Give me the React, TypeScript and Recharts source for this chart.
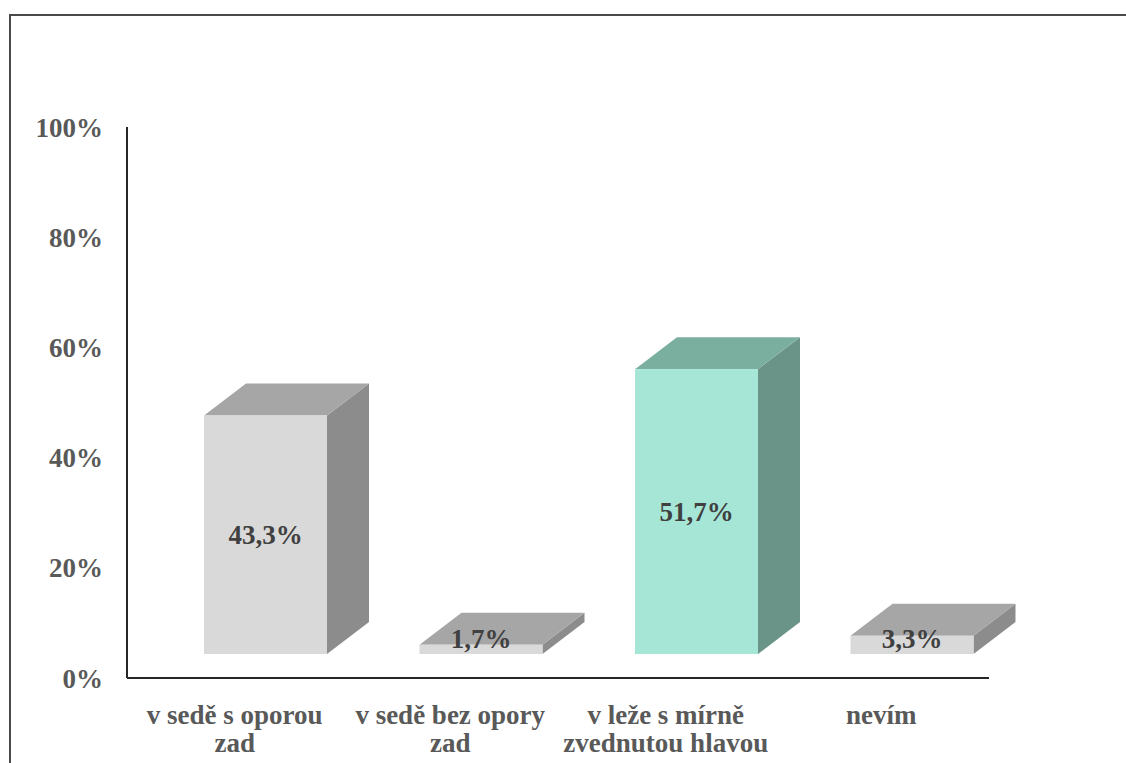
import { BarChart, Bar, XAxis, YAxis } from 'recharts';

// answers (x axis), one line break each where the label wraps
const categories = [
  'v sedě s oporou\nzad',
  'v sedě bez opory\nzad',
  'v leže s mírně\nzvednutou hlavou',
  'nevím',
];
// share of respondents, %
const shares = [43.3, 1.7, 51.7, 3.3];
const yTicks = [0, 20, 40, 60, 80, 100];

const frontColors = ['#d9d9d9', '#d9d9d9', '#a6e6d7', '#d9d9d9'];
const topColors = ['#a6a6a6', '#a6a6a6', '#7aafa0', '#a6a6a6'];
const sideColors = ['#8c8c8c', '#8c8c8c', '#699487', '#8c8c8c'];

const data = categories.map((name, i) => ({ name, value: shares[i] }));

const FONT = '"Liberation Serif", "Times New Roman", serif';
const DEPTH_X = 42;
const DEPTH_Y = 32;
const SHIFT_X = 31;
const SHIFT_Y = -24;

const fmt = (v: number) => `${v.toFixed(1).replace('.', ',')}%`;

function Box3D(props: any) {
  const { x, y, width, height, index, value } = props;
  const fx = x + SHIFT_X;
  const fy = y + SHIFT_Y;
  const right = fx + width;
  const bottom = fy + height;
  const top = `${fx},${fy} ${fx + DEPTH_X},${fy - DEPTH_Y} ${right + DEPTH_X},${fy - DEPTH_Y} ${right},${fy}`;
  const side = `${right},${fy} ${right + DEPTH_X},${fy - DEPTH_Y} ${right + DEPTH_X},${bottom - DEPTH_Y} ${right},${bottom}`;
  const ly = Math.min(fy + height / 2, bottom - 15);
  return (
    <g>
      <polygon points={side} fill={sideColors[index]} />
      <polygon points={top} fill={topColors[index]} />
      <rect x={fx} y={fy} width={width} height={height} fill={frontColors[index]} />
      <text
        x={fx + width / 2}
        y={ly}
        dy="0.35em"
        textAnchor="middle"
        fontFamily={FONT}
        fontWeight="bold"
        fontSize={27}
        fill="#404040"
      >
        {fmt(value)}
      </text>
    </g>
  );
}

function CategoryTick(props: any) {
  const { x, y, payload } = props;
  const lines = String(payload.value).split('\n');
  return (
    <text
      x={x}
      y={y + 44}
      textAnchor="middle"
      fontFamily={FONT}
      fontWeight="bold"
      fontSize={27}
      fill="#595959"
    >
      {lines.map((l, i) => (
        <tspan key={i} x={x} dy={i === 0 ? 0 : 28}>
          {l}
        </tspan>
      ))}
    </text>
  );
}

export default function App() {
  return (
    <div style={{ position: 'absolute', left: 0, top: 0, width: 1126, height: 763, background: '#fff' }}>
      <div
        style={{
          position: 'absolute',
          left: 9,
          top: 14,
          width: 1117,
          height: 749,
          borderTop: '2px solid #4a4a4a',
          borderLeft: '2px solid #4a4a4a',
          boxSizing: 'border-box',
        }}
      />
      <BarChart
        width={1126}
        height={763}
        data={data}
        margin={{ top: 127, right: 137, bottom: 0, left: 0 }}
        style={{ position: 'absolute', left: 0, top: 0 }}
      >
        <XAxis
          dataKey="name"
          height={85}
          interval={0}
          tickLine={false}
          tickSize={0}
          tick={<CategoryTick />}
          axisLine={{ stroke: '#262626', strokeWidth: 2 }}
        />
        <YAxis
          width={127}
          domain={[0, 100]}
          ticks={yTicks}
          tickFormatter={(v: number) => `${v}%`}
          tickLine={false}
          tickSize={0}
          tickMargin={24}
          axisLine={{ stroke: '#262626', strokeWidth: 2 }}
          tick={{ fill: '#595959', fontSize: 27, fontWeight: 'bold', fontFamily: FONT }}
        />
        <Bar dataKey="value" barSize={123} shape={<Box3D />} isAnimationActive={false} />
      </BarChart>
    </div>
  );
}
